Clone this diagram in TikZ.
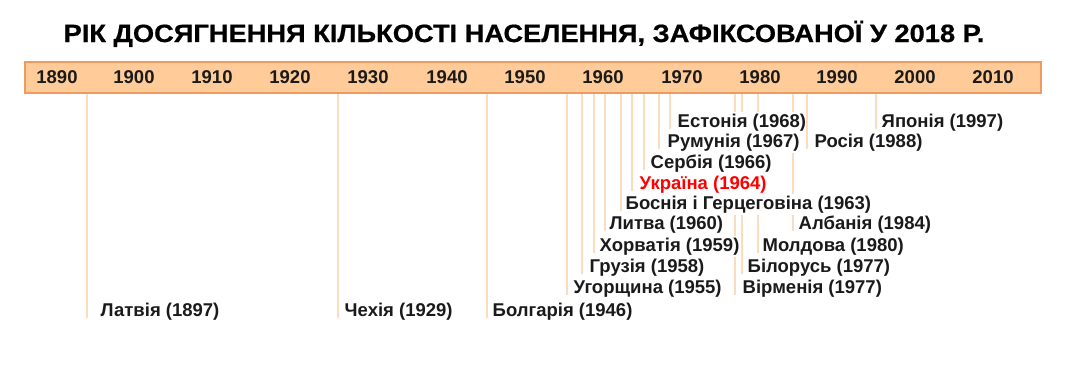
\documentclass[tikz,border=0pt]{standalone}
\usepackage{fontspec}
\setmainfont{Liberation Sans}
\newfontfamily\titlefont[FakeBold=0.6]{Liberation Sans Bold}
\definecolor{barfill}{HTML}{FFCC99}
\definecolor{barline}{HTML}{EE9A60}
\definecolor{tickc}{HTML}{FCDCBE}
\definecolor{txt}{HTML}{1A1A1A}
\definecolor{ukr}{HTML}{FF0000}
\tikzset{
  yearlbl/.style={font=\fontsize{18.5}{18.5}\selectfont\bfseries, text=txt, inner sep=0pt, anchor=base},
  lbl/.style={font=\fontsize{18.5}{18.5}\selectfont\bfseries, text=txt, fill=white, inner xsep=0.5pt, inner ysep=2pt, anchor=base west},
  redlbl/.style={lbl, text=ukr},
  tickline/.style={draw=tickc, line width=1.6pt},
  bar/.style={draw=barline, fill=barfill, line width=1.8pt}
}
\newcommand\cty[6]{%
  \coordinate (#1top) at (#2,-94);
  \coordinate (#1bot) at (#2,-#4-2);
  \draw[tickline] (#1top) -- (#1bot);
  \node[#6] (#1) at (#3,-#4) {#5};
}
\begin{document}
\begin{tikzpicture}[x=1pt,y=1pt]
\useasboundingbox[fill=white] (0,0) rectangle (1070,-365);
\node[font=\fontsize{25}{25}\titlefont, text=black, inner sep=0pt, anchor=base] (title) at (524,-42) {\scalebox{1.09}[1]{РІК ДОСЯГНЕННЯ КІЛЬКОСТІ НАСЕЛЕННЯ, ЗАФІКСОВАНОЇ У 2018 Р.}};
\cty{arm}{735}{742}{293}{Вірменія (1977)}{lbl}
\cty{blr}{742}{747}{272}{Білорусь (1977)}{lbl}
\cty{mol}{758}{762}{251}{Молдова (1980)}{lbl}
\cty{alb}{793}{798}{229}{Албанія (1984)}{lbl}
\cty{lat}{87}{100}{316}{Латвія (1897)}{lbl}
\cty{cze}{338}{344}{316}{Чехія (1929)}{lbl}
\cty{bul}{487}{492}{316}{Болгарія (1946)}{lbl}
\cty{hun}{567}{573}{293}{Угорщина (1955)}{lbl}
\cty{geo}{582}{589}{272}{Грузія (1958)}{lbl}
\cty{cro}{594}{599}{251}{Хорватія (1959)}{lbl}
\cty{lit}{605}{609}{229}{Литва (1960)}{lbl}
\cty{bos}{621}{625}{209}{Боснія і Герцеговіна (1963)}{lbl}
\cty{ukr}{632}{639}{189}{Україна (1964)}{redlbl}
\cty{ser}{644}{650}{168}{Сербія (1966)}{lbl}
\cty{rom}{659}{667}{147}{Румунія (1967)}{lbl}
\cty{est}{670}{677}{127}{Естонія (1968)}{lbl}
\cty{rus}{807}{814}{147}{Росія (1988)}{lbl}
\cty{jap}{876}{881}{127}{Японія (1997)}{lbl}
\draw[bar] (25,-62) rectangle (1041,-93);
\node[yearlbl] (y1890) at (57,-83) {1890};
\node[yearlbl] (y1900) at (134,-83) {1900};
\node[yearlbl] (y1910) at (212,-83) {1910};
\node[yearlbl] (y1920) at (290,-83) {1920};
\node[yearlbl] (y1930) at (368,-83) {1930};
\node[yearlbl] (y1940) at (447,-83) {1940};
\node[yearlbl] (y1950) at (525,-83) {1950};
\node[yearlbl] (y1960) at (603,-83) {1960};
\node[yearlbl] (y1970) at (682,-83) {1970};
\node[yearlbl] (y1980) at (760,-83) {1980};
\node[yearlbl] (y1990) at (837,-83) {1990};
\node[yearlbl] (y2000) at (915,-83) {2000};
\node[yearlbl] (y2010) at (993,-83) {2010};
\end{tikzpicture}
\end{document}
